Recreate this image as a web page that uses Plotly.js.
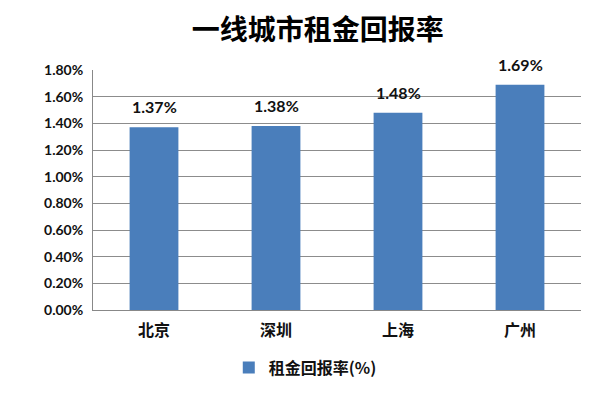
<!DOCTYPE html>
<html><head><meta charset="utf-8">
<script src="https://cdn.plot.ly/plotly-3.0.1.min.js"></script>
<style>html,body{margin:0;padding:0;background:#fff;}#chart{width:611px;height:398px;}</style>
</head><body><div id="chart"></div>
<script>
const categories = ["北京", "深圳", "上海", "广州"];
const values = [1.37, 1.38, 1.48, 1.69];
const labels = ["1.37%", "1.38%", "1.48%", "1.69%"];
const tickVals = [0, 0.2, 0.4, 0.6, 0.8, 1.0, 1.2, 1.4, 1.6, 1.8];
const tickText = ["0.00%", "0.20%", "0.40%", "0.60%", "0.80%", "1.00%", "1.20%", "1.40%", "1.60%", "1.80%"];
const seriesName = "租金回报率(%)";
const titleText = "一线城市租金回报率";

const fam = "Lato, 'Noto Sans CJK SC', sans-serif";
const cjk = "'Noto Sans CJK SC', sans-serif";
const trace = {
  type: "bar", x: categories, y: values, name: seriesName,
  marker: {color: "#4A7EBB"}, width: 0.4, showlegend: true, hoverinfo: "none"
};
const annotations = categories.map((c, i) => ({
  x: c, y: values[i], text: "<b>" + labels[i] + "</b>", showarrow: false,
  yanchor: "bottom", yshift: 9, font: {family: fam, size: 16, color: "#111"}
}));
Plotly.newPlot("chart", [trace], {
  width: 611, height: 398,
  margin: {l: 93, r: 30, t: 70, b: 88},
  paper_bgcolor: "#fff", plot_bgcolor: "#fff",
  title: {text: "<b>" + titleText + "</b>", x: 0.52, xanchor: "center", y: 0.925, yanchor: "middle",
    font: {family: cjk, size: 28, color: "#000", weight: 900}},
  xaxis: {showgrid: false, showline: true, linecolor: "#888", linewidth: 1, ticks: "", ticklabelstandoff: 6,
    tickfont: {family: cjk, size: 16, color: "#111", weight: 700},
    fixedrange: true},
  yaxis: {range: [0, 1.8], tickvals: tickVals, ticktext: tickText, showgrid: true, gridcolor: "#8c8c8c", gridwidth: 1,
    showline: true, linecolor: "#888", linewidth: 1, zeroline: false, ticks: "", ticklabelstandoff: 6,
    tickfont: {family: fam, size: 14, color: "#111", weight: 700}, fixedrange: true},
  legend: {orientation: "h", x: 0.435, xanchor: "center", y: -0.24, yanchor: "middle",
    font: {family: cjk, size: 16, color: "#111", weight: 700}},
  annotations: annotations,
  bargap: 0.6
}, {displayModeBar: false, staticPlot: true});
</script></body></html>
